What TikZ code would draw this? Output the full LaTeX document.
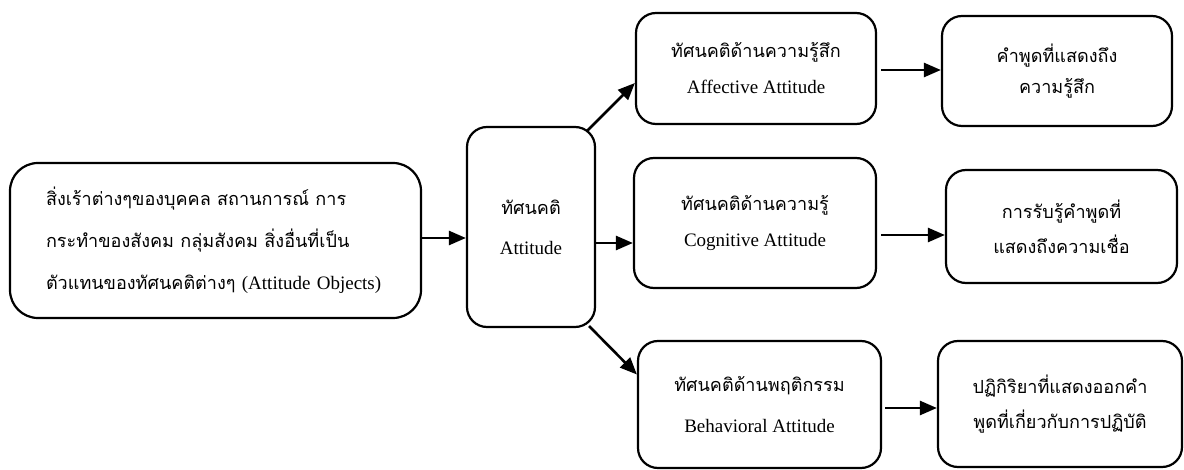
\documentclass[tikz,border=0pt]{standalone}
\usepackage{fontspec}
\setmainfont{Liberation Serif}
\newfontfamily\thai[Script=Thai,Scale=0.95]{Loma}
\usetikzlibrary{arrows.meta}
\begin{document}
\begin{tikzpicture}[x=1pt,y=-1pt,
  box/.style={draw, line width=2.2pt, rounded corners=20pt, align=center, inner sep=0pt, font=\fontsize{19}{36}\selectfont},
  arr/.style={line width=2.6pt, -{Triangle[length=17pt,width=14pt]}}]
\useasboundingbox (0,0) rectangle (1184,470);

\node[box, minimum width=411pt, minimum height=155pt, rounded corners=28pt, text width=339pt, align=left, font=\fontsize{19}{42}\selectfont] (L) at (215.5,240.5)
  {\thai สิ่งเร้าต่างๆของบุคคล สถานการณ์ การ\\
   กระทำของสังคม กลุ่มสังคม สิ่งอื่นที่เป็น\\
   ตัวแทนของทัศนคติต่างๆ {\rmfamily (Attitude Objects)}};

\node[box, minimum width=128pt, minimum height=200pt, font=\fontsize{19}{40}\selectfont] (A) at (531,227)
  {{\thai ทัศนคติ}\\Attitude};

\node[box, minimum width=240pt, minimum height=111pt] (AF) at (756,68.5)
  {{\thai ทัศนคติด้านความรู้สึก}\\Affective Attitude};
\node[box, minimum width=230pt, minimum height=110pt, font=\fontsize{19}{31}\selectfont] (R1) at (1057,71)
  {{\thai คำพูดที่แสดงถึง}\\{\thai ความรู้สึก}};

\node[box, minimum width=242pt, minimum height=130pt] (CG) at (755,223)
  {{\thai ทัศนคติด้านความรู้}\\Cognitive Attitude};
\node[box, minimum width=231pt, minimum height=113pt, font=\fontsize{19}{35}\selectfont] (R2) at (1061.5,226.5)
  {{\thai การรับรู้คำพูดที่}\\{\thai แสดงถึงความเชื่อ}};

\node[box, minimum width=243pt, minimum height=127pt, font=\fontsize{19}{41}\selectfont] (BH) at (759.5,404.5)
  {{\thai ทัศนคติด้านพฤติกรรม}\\Behavioral Attitude};
\node[box, minimum width=244pt, minimum height=126pt, font=\fontsize{19}{35}\selectfont] (R3) at (1060,404)
  {{\thai ปฏิกิริยาที่แสดงออกคำ}\\{\thai พูดที่เกี่ยวกับการปฏิบัติ}};

\draw[arr] ([yshift=2.5pt]L.east) -- ([yshift=2.5pt]L.east -| A.west);
\draw[arr] ([yshift=-16pt]A.east) -- ([yshift=-16pt]A.east -| CG.west);
\draw[arr] ([xshift=-9pt,yshift=-5pt]A.north east) -- ([yshift=-14.5pt]AF.west);
\draw[arr] ([xshift=-7pt,yshift=2pt]A.south east) -- ([yshift=30pt]BH.west);
\draw[arr] ([xshift=4pt,yshift=-1.5pt]AF.east) -- ([yshift=-1.5pt]AF.east -| R1.west);
\draw[arr] ([xshift=4pt,yshift=-12pt]CG.east) -- ([yshift=-12pt]CG.east -| R2.west);
\draw[arr] ([xshift=3pt,yshift=-3.5pt]BH.east) -- ([yshift=-3.5pt]BH.east -| R3.west);
\end{tikzpicture}
\end{document}
